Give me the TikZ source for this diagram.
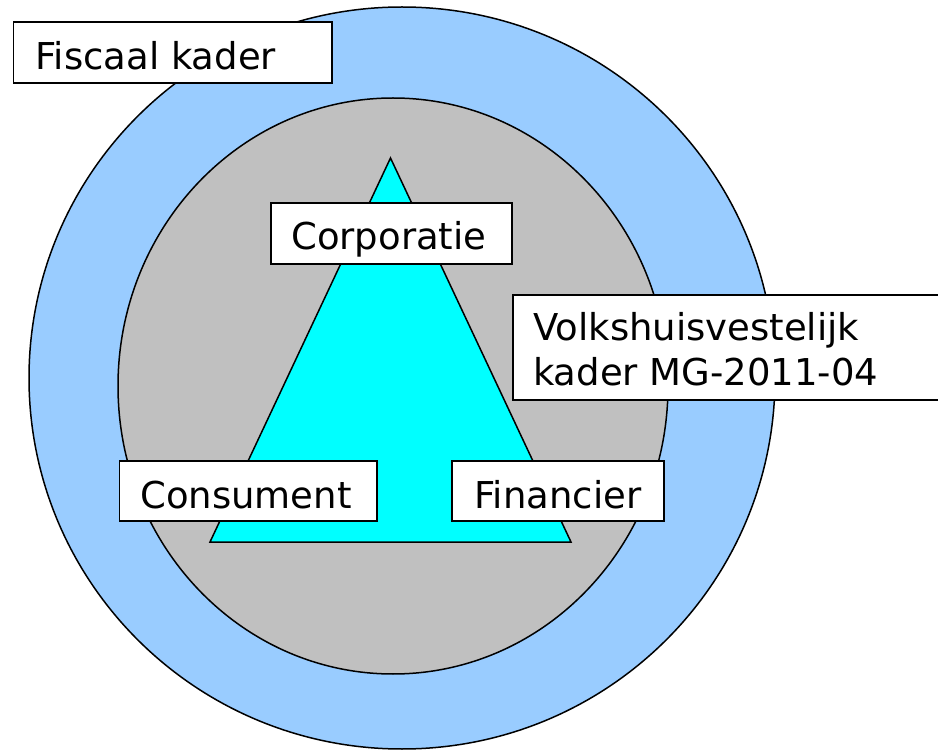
\documentclass[tikz,border=0pt]{standalone}
\usepackage{fontspec}
\setmainfont{DejaVu Sans}
\definecolor{outerblue}{HTML}{99CCFF}
\definecolor{innergray}{HTML}{C0C0C0}
\definecolor{tricyan}{HTML}{00FFFF}
\begin{document}
\begin{tikzpicture}[x=1pt,y=-1pt,
  ring/.style={draw=black,line width=1.5pt},
  box/.style={draw=black,fill=white,line width=1.8pt},
  lbl/.style={inner sep=0pt,font=\fontsize{37}{45}\selectfont}]
\useasboundingbox (0,0) rectangle (938,751);
\path[ring,fill=outerblue] (402,378) ellipse [x radius=373, y radius=371];
\path[ring,fill=innergray] (393,386) ellipse [x radius=275, y radius=288];
\coordinate (apex) at (390.5,158);
\coordinate (bl) at (210,542);
\coordinate (br) at (571,542);
\path[ring,fill=tricyan] (apex) -- (bl) -- (br) -- cycle;
% Fiscaal kader
\path[box] (13.5,22) rectangle (332,83);
\node[lbl,anchor=base west] (fiscaal) at (35,70) {Fiscaal kader};
% Corporatie
\path[box] (271,203) rectangle (512,264);
\node[lbl,anchor=base west] (corp) at (291,250) {Corporatie};
% Volkshuisvestelijk
\path[box] (513,295) rectangle (945,400);
\node[lbl,anchor=base west] (volks1) at (533,341) {Volkshuisvestelijk};
\node[lbl,anchor=base west] (volks2) at (533,386) {kader MG-2011-04};
% Consument
\path[box] (119.5,461) rectangle (377,521);
\node[lbl,anchor=base west] (cons) at (140,508) {Consument};
% Financier
\path[box] (452,461) rectangle (664,521);
\node[lbl,anchor=base west] (fin) at (474,508) {Financier};
\end{tikzpicture}
\end{document}
